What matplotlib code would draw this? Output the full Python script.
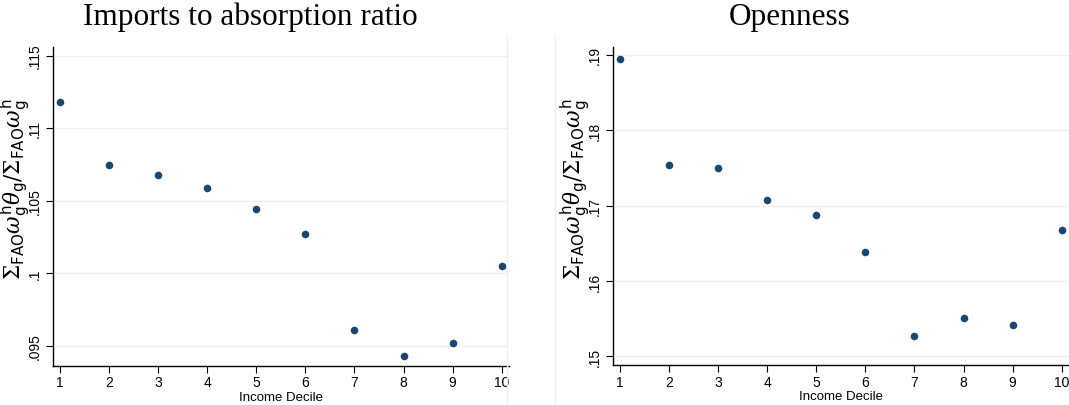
import matplotlib
matplotlib.use("Agg")
import matplotlib.pyplot as plt
from matplotlib.ticker import FixedLocator
from matplotlib.lines import Line2D

deciles = [1, 2, 3, 4, 5, 6, 7, 8, 9, 10]
imports_ratio = [0.1118, 0.10745, 0.1068, 0.1059, 0.1044, 0.1027, 0.0961, 0.0943, 0.0952, 0.1005]
openness = [0.1895, 0.1754, 0.1750, 0.1707, 0.1687, 0.1639, 0.1527, 0.1551, 0.1542, 0.1667]

left_yticks = [0.095, 0.1, 0.105, 0.11, 0.115]
left_ylabels = [".095", ".1", ".105", ".11", ".115"]
right_yticks = [0.15, 0.16, 0.17, 0.18, 0.19]
right_ylabels = [".15", ".16", ".17", ".18", ".19"]

titles = ["Imports to absorption ratio", "Openness"]
ylab = r'$\Sigma_{\mathsf{FAO}}\omega^{\mathsf{h}}_{\mathsf{g}}\theta_{\mathsf{g}}/\Sigma_{\mathsf{FAO}}\omega^{\mathsf{h}}_{\mathsf{g}}$'
xlab = "Income Decile"

plt.rcParams["mathtext.fontset"] = "dejavuserif"

navy = "#1a476f"
grid_c = "#eaf2f3"

W, H = 1069, 406
fig = plt.figure(figsize=(W / 100, H / 100), dpi=100)
fig.patch.set_facecolor("white")

def make_ax(x0, x1, y_top, y_bot):
    return fig.add_axes([x0 / W, (H - y_bot) / H, (x1 - x0) / W, (y_bot - y_top) / H])

axL = make_ax(52.7, 509, 48, 366.7)
axR = make_ax(612.7, 1069, 48, 366)

configs = [
    (axL, imports_ratio, left_yticks, left_ylabels, (0.09362, 0.11559), 250, 15.5),
    (axR, openness, right_yticks, right_ylabels, (0.14884, 0.19106), 790, 575.5),
]
for i, (ax, vals, yt, yl, ylim, tx, lx) in enumerate(configs):
    ax.set_xlim(0.85, 10.15)
    ax.set_ylim(*ylim)
    ax.yaxis.set_major_locator(FixedLocator(yt))
    ax.set_yticklabels(yl, rotation=90, va="center", fontsize=10, family="Liberation Sans")
    ax.set_xticks(deciles)
    ax.set_xticklabels([str(d) for d in deciles], fontsize=10, family="Liberation Sans")
    ax.grid(axis="y", color=grid_c, linewidth=1.0)
    ax.set_axisbelow(True)
    for s in ["top", "right"]:
        ax.spines[s].set_visible(False)
    ax.spines["left"].set_linewidth(1.0)
    ax.spines["bottom"].set_linewidth(1.0)
    ax.tick_params(axis="both", direction="out", length=5, width=0.8, pad=2, color="black")
    ax.tick_params(axis="y", pad=3)
    ax.scatter(deciles, vals, s=30, color=navy, zorder=3, clip_on=False, linewidths=0)
    ax.set_xlabel(xlab, fontsize=9.5, family="Liberation Sans", labelpad=1)
    fig.text(tx / W, (H - 17) / H, titles[i], ha="center", va="center", fontsize=22.5, family="Liberation Serif")
    fig.text(lx / W, (H - 189) / H, ylab, rotation=90, ha="center", va="center", fontsize=15.5)

# faint panel borders
fig.add_artist(Line2D([507 / W, 507 / W], [0, (H - 35) / H], color="#f0f0f0", linewidth=1))
fig.add_artist(Line2D([555 / W, 555 / W], [0, (H - 35) / H], color="#f0f0f0", linewidth=1))

fig.savefig("out.png", dpi=100)
